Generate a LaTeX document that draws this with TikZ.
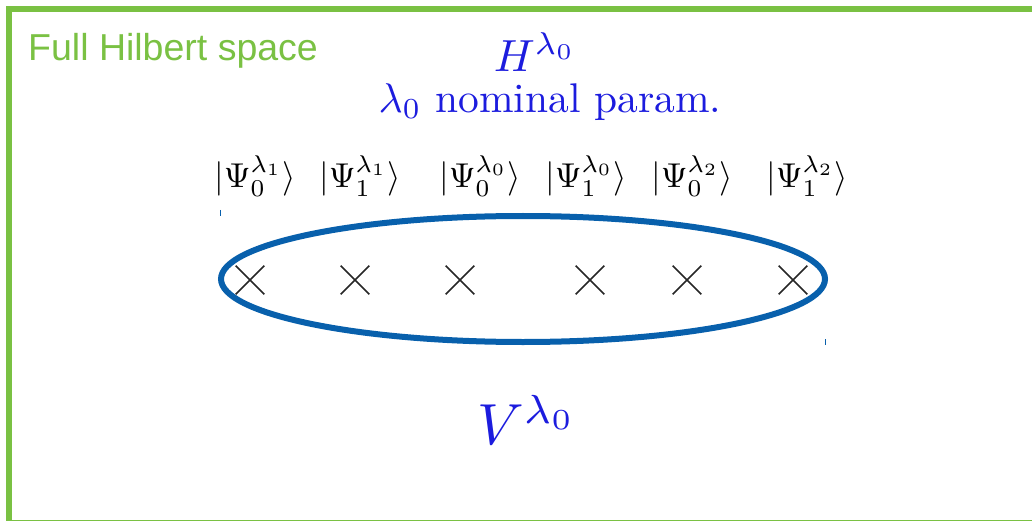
\documentclass[tikz,border=0pt]{standalone}
\usepackage{fontspec}
\newfontfamily\labelfont{Liberation Sans}
\usetikzlibrary{shapes.geometric,shapes.misc}
\definecolor{framegreen}{RGB}{122,193,67}
\definecolor{mathblue}{RGB}{28,28,222}
\definecolor{ovalblue}{RGB}{8,96,172}
\newcommand{\bigtext}[2]{\scalebox{#1}{#2}}
\tikzset{
  hilbertframe/.style={draw=framegreen, line width=6pt},
  spacelabel/.style={font=\labelfont\fontsize{37.5}{44}\selectfont, text=framegreen, inner sep=0pt},
  bluemath/.style={text=mathblue, inner sep=0pt},
  ket/.style={inner sep=0pt},
  state/.style={cross out, draw=black!85, line width=1.6pt, minimum size=27pt, inner sep=0pt},
  oval/.style={ellipse, draw=ovalblue, line width=6pt, minimum width=604pt, minimum height=126pt},
  cropmark/.style={draw=ovalblue, line width=1pt},
}

\begin{document}
\begin{tikzpicture}[x=1pt, y=-1pt]
\useasboundingbox (0,0) rectangle (1032,521);
\draw[hilbertframe] (9,9) rectangle (1045,523);
\node[spacelabel, anchor=base west] (fulllabel) at (28,61) {Full Hilbert space};
% nominal parameter space
\node[bluemath] (hspace) at (535,52) {\bigtext{4.5}{$H^{\lambda_0}$}};
\node[bluemath] (nominal) at (550,102) {\bigtext{4.15}{$\lambda_0$ nominal param.}};
% basis states
\node[ket] (k1) at (255,176) {\bigtext{3.45}{$|\Psi_0^{\lambda_1}\rangle$}};
\node[ket] (k2) at (360,176) {\bigtext{3.45}{$|\Psi_1^{\lambda_1}\rangle$}};
\node[ket] (k3) at (480,176) {\bigtext{3.45}{$|\Psi_0^{\lambda_0}\rangle$}};
\node[ket] (k4) at (586,176) {\bigtext{3.45}{$|\Psi_1^{\lambda_0}\rangle$}};
\node[ket] (k5) at (692,176) {\bigtext{3.45}{$|\Psi_0^{\lambda_2}\rangle$}};
\node[ket] (k6) at (807,176) {\bigtext{3.45}{$|\Psi_1^{\lambda_2}\rangle$}};
\draw[cropmark] (220,210) -- (220,216);
\draw[cropmark] (825,339) -- (825,345);
\node[oval] (span) at (523,279) {};
\node[state] (s1) at (250,280) {};
\node[state] (s2) at (355,280) {};
\node[state] (s3) at (460,280) {};
\node[state] (s4) at (590,280) {};
\node[state] (s5) at (687,280) {};
\node[state] (s6) at (793,280) {};
\node[bluemath] (vspace) at (527,420) {\bigtext{5.8}{$V^{\lambda_0}$}};
\end{tikzpicture}
\end{document}
